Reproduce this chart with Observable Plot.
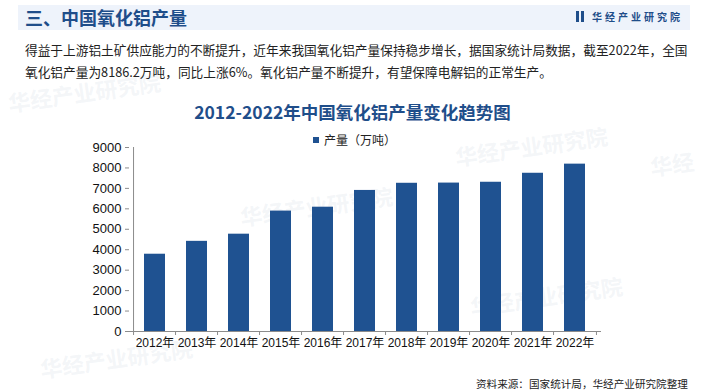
<!DOCTYPE html>
<html>
<head>
<meta charset="utf-8">
<script src="https://cdn.jsdelivr.net/npm/d3@7"></script>
<script src="https://cdn.jsdelivr.net/npm/@observablehq/plot@0.6"></script>
<style>
  html, body { margin: 0; padding: 0; background: #fff; }
  #page { position: relative; width: 705px; height: 392px; overflow: hidden; background: #fff;
          font-family: "Noto Sans CJK SC", "Microsoft YaHei", sans-serif; }
  .abs { position: absolute; white-space: nowrap; }
  .wm { position: absolute; white-space: nowrap; color: rgba(190,200,215,0.18); font-weight: 700;
        font-size: 22px; transform: rotate(-8deg); transform-origin: left center; }
</style>
</head>
<body>
<div id="page">
  <div class="wm" style="left:8px;top:86px;">华经产业研究院</div>
  <div class="wm" style="left:455px;top:140px;">华经产业研究院</div>
  <div class="wm" style="left:240px;top:200px;">华经产业研究院</div>
  <div class="wm" style="left:470px;top:290px;">华经产业研究院</div>
  <div class="wm" style="left:40px;top:352px;">华经产业研究院</div>
  <div class="wm" style="left:650px;top:150px;">华经</div>

  <div class="abs" style="left:18px;top:5px;width:672px;height:25px;background:#eef3fb;"></div>
  <div class="abs" style="left:25px;top:4px;font-size:18px;font-weight:700;color:#1f4e8a;line-height:27px;">三、中国氧化铝产量</div>
  <div class="abs" style="left:576px;top:11px;width:3px;height:11px;background:#1f4e8a;"></div>
  <div class="abs" style="left:581px;top:11px;width:3px;height:11px;background:#1f4e8a;"></div>
  <div class="abs" style="left:592px;top:8px;font-size:10px;font-weight:700;color:#1f4e8a;letter-spacing:3px;line-height:17px;">华经产业研究院</div>

  <div class="abs" style="left:25px;top:39px;font-size:12.7px;color:#222;line-height:22px;">得益于上游铝土矿供应能力的不断提升，近年来我国氧化铝产量保持稳步增长，据国家统计局数据，截至2022年，全国<br>氧化铝产量为8186.2万吨，同比上涨6%。氧化铝产量不断提升，有望保障电解铝的正常生产。</div>

  <div class="abs" style="left:0;width:705px;top:99px;text-align:center;font-size:17.5px;font-weight:700;color:#1f4e8a;line-height:26px;">2012-2022年中国氧化铝产量变化趋势图</div>

  <div class="abs" style="left:313px;top:137px;width:6px;height:6px;background:#1f5291;"></div>
  <div class="abs" style="left:324px;top:131px;font-size:12px;color:#222;line-height:18px;">产量（万吨）</div>

  <div id="chart" class="abs" style="left:0;top:125px;"></div>

  <div class="abs" style="left:476px;top:376px;font-size:10.6px;color:#222;line-height:16px;">资料来源：国家统计局，华经产业研究院整理</div>
</div>
<script>
const years = ["2012年","2013年","2014年","2015年","2016年","2017年","2018年","2019年","2020年","2021年","2022年"];
const output = [3780, 4410, 4760, 5890, 6080, 6900, 7250, 7260, 7300, 7740, 8186.2];
const yTicks = [0, 1000, 2000, 3000, 4000, 5000, 6000, 7000, 8000, 9000];

const data = years.map((y, i) => ({year: y, value: output[i]}));

const W = 705, H = 235, ML = 129, MR = 104, MT = 22, MB = 29;
const step = (W - ML - MR) / years.length;
const pad = 0.49;
const font = "Arial, 'Liberation Sans', 'Noto Sans CJK SC', sans-serif";

const chart = Plot.plot({
  width: W, height: H,
  marginLeft: ML, marginRight: MR, marginTop: MT, marginBottom: MB,
  style: {fontFamily: font, fontSize: "13px", color: "#111", background: "transparent", overflow: "visible"},
  x: {domain: years, paddingInner: pad, paddingOuter: pad / 2, label: null},
  y: {domain: [0, 9000], label: null},
  marks: [
    Plot.barY(data, {x: "year", y: "value", fill: "#1f5291"}),
    Plot.ruleY([0], {stroke: "#8c8c8c", strokeWidth: 1}),
    Plot.ruleX([years[0]], {dx: -step / 2, stroke: "#8c8c8c", strokeWidth: 1}),
    Plot.axisY({ticks: yTicks, tickSize: 4, tickPadding: 4, tickFormat: d3.format("d"), stroke: "#8c8c8c", fill: "#111", fontSize: 13, label: null}),
    Plot.axisX({ticks: years, tickSize: 4, dx: -step / 2, text: null, stroke: "#8c8c8c", label: null}),
    Plot.axisX({ticks: [years[years.length - 1]], tickSize: 4, dx: step / 2, text: null, stroke: "#8c8c8c", label: null}),
    Plot.axisX({ticks: years, tickSize: 0, tickPadding: 7, fontSize: 12, fill: "#111", label: null})
  ]
});
document.getElementById("chart").appendChild(chart);
</script>
</body>
</html>
